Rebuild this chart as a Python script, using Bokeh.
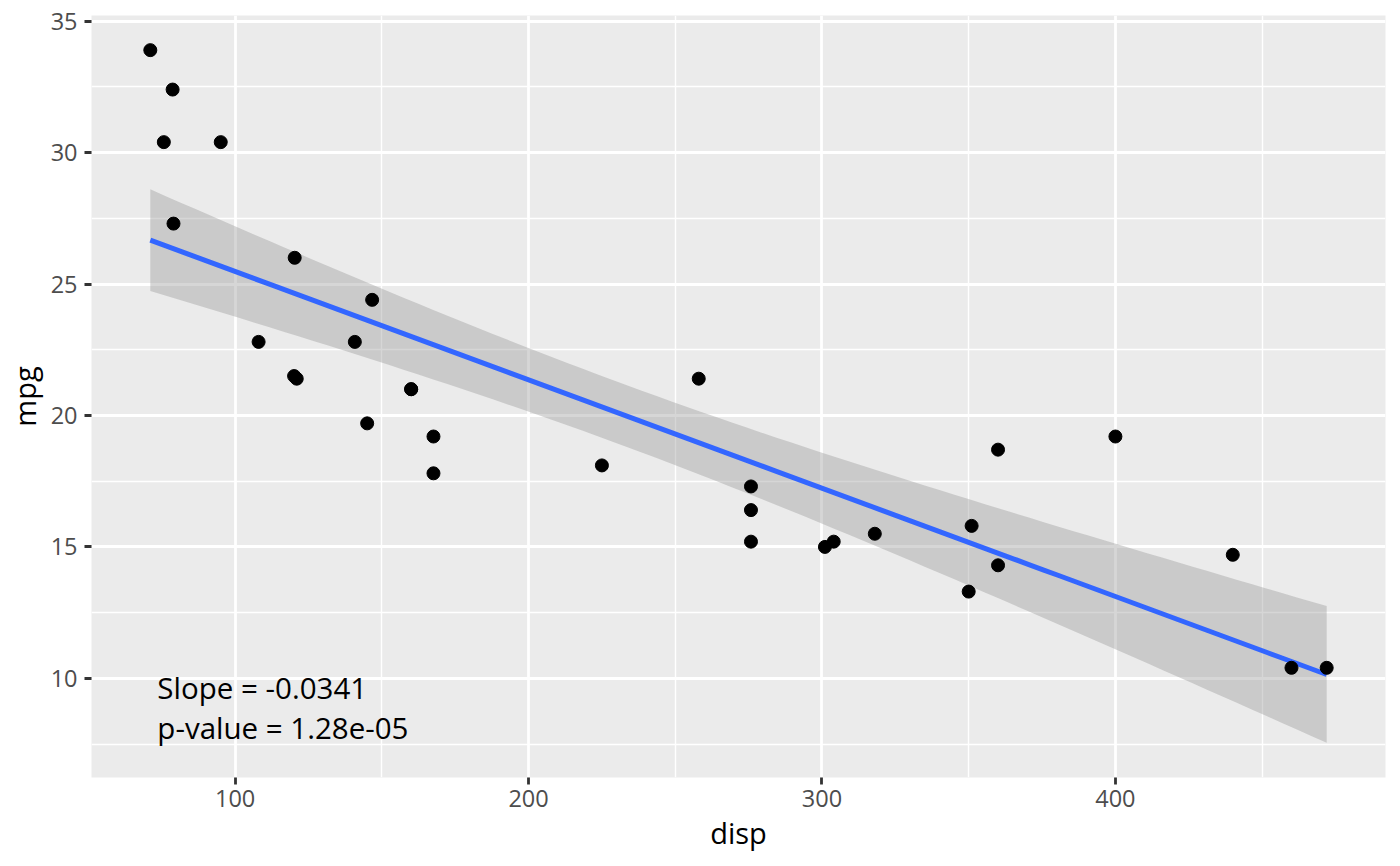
import numpy as np
from bokeh.plotting import figure
from bokeh.models import Range1d, FixedTicker
from bokeh.embed import file_html
from bokeh.resources import INLINE
from bokeh.core.properties import value

# mtcars: displacement vs miles per gallon
disp = [160, 160, 108, 258, 360, 225, 360, 146.7, 140.8, 167.6, 167.6,
        275.8, 275.8, 275.8, 472, 460, 440, 78.7, 75.7, 71.1, 120.1, 318,
        304, 350, 400, 79, 120.3, 95.1, 351, 145, 301, 121]
mpg = [21.0, 21.0, 22.8, 21.4, 18.7, 18.1, 14.3, 24.4, 22.8, 19.2, 17.8,
       16.4, 17.3, 15.2, 10.4, 10.4, 14.7, 32.4, 30.4, 33.9, 21.5, 15.5,
       15.2, 13.3, 19.2, 27.3, 26.0, 30.4, 15.8, 19.7, 15.0, 21.4]

x_ticks = [100, 200, 300, 400]
x_minor = [150, 250, 350, 450]
y_ticks = [10, 15, 20, 25, 30, 35]
y_minor = [7.5, 12.5, 17.5, 22.5, 27.5, 32.5]

annotation_lines = ["Slope = -0.0341", "p-value = 1.28e-05"]
annotation_x = [73.5, 73.5]
annotation_y = [9.67, 8.14]

FONT = "Open Sans"

# linear model fit with 95% confidence band (as geom_smooth(method="lm"))
x = np.array(disp, dtype=float)
y = np.array(mpg, dtype=float)
n = len(x)
slope, intercept = np.polyfit(x, y, 1)
xs = np.linspace(x.min(), x.max(), 80)
fit = intercept + slope * xs
resid = y - (intercept + slope * x)
s = np.sqrt(np.sum(resid ** 2) / (n - 2))
xm = x.mean()
sxx = np.sum((x - xm) ** 2)
t_crit = 2.042272  # t(0.975, df=30)
se = s * np.sqrt(1.0 / n + (xs - xm) ** 2 / sxx)
lower = fit - t_crit * se
upper = fit + t_crit * se

xmin, xmax = x.min(), x.max()
dx = xmax - xmin
ymin = min(y.min(), lower.min())
ymax = max(y.max(), upper.max())
dy = ymax - ymin

p = figure(width=1400, height=866,
           x_range=Range1d(xmin - 0.05 * dx, xmax + 0.05 * dx),
           y_range=Range1d(ymin - 0.05 * dy, ymax + 0.05 * dy),
           output_backend="svg", toolbar_location=None,
           min_border_left=91, min_border_right=15,
           min_border_top=15, min_border_bottom=89)

p.background_fill_color = "#EBEBEB"
p.border_fill_color = "white"
p.outline_line_color = None

p.xaxis.ticker = FixedTicker(ticks=x_ticks, minor_ticks=x_minor)
p.yaxis.ticker = FixedTicker(ticks=y_ticks, minor_ticks=y_minor)

for g in (p.xgrid, p.ygrid):
    g.grid_line_color = "white"
    g.grid_line_width = 2.8
    g.minor_grid_line_color = "white"
    g.minor_grid_line_width = 1.4

for ax in (p.xaxis, p.yaxis):
    ax.axis_line_color = None
    ax.major_tick_line_color = "#333333"
    ax.major_tick_line_width = 2.8
    ax.major_tick_out = 7
    ax.major_tick_in = 0
    ax.minor_tick_line_color = None
    ax.major_label_text_color = "#4D4D4D"
    ax.major_label_text_font = FONT
    ax.major_label_text_font_size = "23.5px"
    ax.axis_label_text_font = FONT
    ax.axis_label_text_font_size = "29px"
    ax.axis_label_text_font_style = "normal"
    ax.axis_label_text_color = "black"

p.xaxis.major_label_standoff = 5
p.xaxis.axis_label_standoff = 3
p.yaxis.major_label_standoff = 7
p.yaxis.axis_label_standoff = 4

p.xaxis.axis_label = "disp"
p.yaxis.axis_label = "mpg"

p.varea(x=xs, y1=lower, y2=upper, fill_color="#999999", fill_alpha=0.4)
p.line(xs, fit, line_color="#3366FF", line_width=5)
p.scatter(disp, mpg, size=13, color="black")

p.text(x=annotation_x, y=annotation_y, text=annotation_lines,
       text_font=value(FONT), text_font_size="29.5px",
       text_baseline="alphabetic", text_align="left", text_color="black")

open("out.html", "w").write(file_html(p, INLINE))
